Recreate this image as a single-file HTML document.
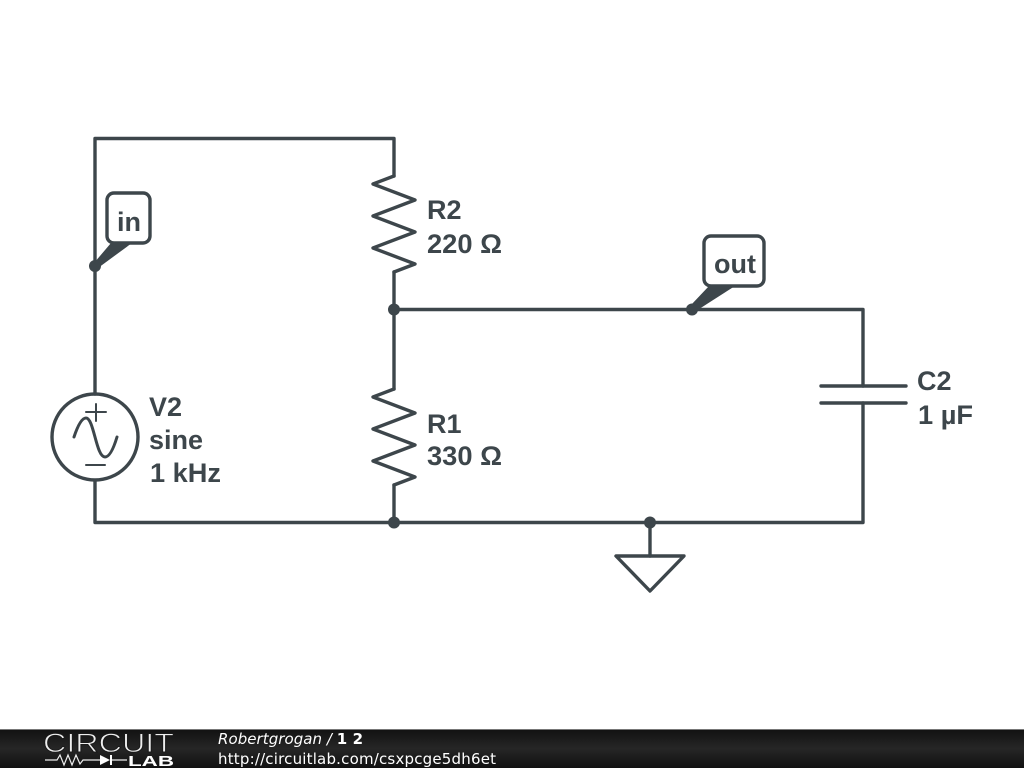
<!DOCTYPE html>
<html>
<head>
<meta charset="utf-8">
<style>
html,body{margin:0;padding:0;background:#fff;width:1024px;height:768px;overflow:hidden}
svg{display:block}
.t{font-family:"Liberation Sans",sans-serif;font-weight:700;font-size:27px;fill:#3d464b}
.f{font-family:"DejaVu Sans",sans-serif;font-size:15px;fill:#fff}
</style>
</head>
<body>
<svg width="1024" height="768" viewBox="0 0 1024 768" xmlns="http://www.w3.org/2000/svg">
<defs>
<linearGradient id="g" x1="0" y1="0" x2="0" y2="1">
<stop offset="0" stop-color="#111"/>
<stop offset="0.5" stop-color="#262626"/>
<stop offset="1" stop-color="#111"/>
</linearGradient>
</defs>
<rect width="1024" height="768" fill="#fff"/>
<g fill="none" stroke="#3d464b" stroke-width="3.4" stroke-linejoin="round" stroke-linecap="round">
<!-- wires -->
<path d="M95 394V138.500H394V176"/>
<path d="M95 481V522.500H863V403"/>
<path d="M394 272V389"/>
<path d="M394 485V522"/>
<path d="M394 309.500H863V386"/>
<path d="M650 522V556"/>
<!-- resistors -->
<path d="M394 176L373 184L415 200L373 216L415 232L373 248L415 264L394 272"/>
<path d="M394 389L373 397L415 413L373 429L415 445L373 461L415 477L394 485"/>
<!-- capacitor -->
<path d="M821 386H906M821 403H906"/>
<!-- ground -->
<path d="M616 556H684L650 591Z"/>
<!-- source -->
<circle cx="95" cy="437" r="43"/>
</g>
<g fill="none" stroke="#3d464b" stroke-width="2" stroke-linecap="round">
<path d="M86 412H106M96 404V421"/>
<path d="M86 465H105"/>
<path d="M74 437C78 425 82 418 86 418C94 418 96 457 105 457C110 457 114 447 117 437" stroke-width="3"/>
</g>
<!-- junctions -->
<g fill="#3d464b">
<circle cx="95" cy="266" r="6"/>
<circle cx="394" cy="309.500" r="6"/>
<circle cx="692" cy="309.500" r="6"/>
<circle cx="394" cy="522.500" r="6"/>
<circle cx="650" cy="522.500" r="6"/>
</g>
<!-- flags -->
<rect x="107" y="193" width="43" height="50" rx="7" fill="#fff" stroke="#3d464b" stroke-width="3.4"/>
<rect x="704" y="236" width="60" height="50" rx="7" fill="#fff" stroke="#3d464b" stroke-width="3.4"/>
<g fill="#3d464b">
<path d="M94 263L111 243L132 243L98 268Z"/>
<path d="M691 305L709 286L735 286L696 311Z"/>
</g>
<text class="t" x="117" y="231">in</text>
<text class="t" x="714" y="273">out</text>
<!-- labels -->
<text class="t" x="427" y="219">R2</text>
<text class="t" x="427" y="253" textLength="75" lengthAdjust="spacingAndGlyphs">220 Ω</text>
<text class="t" x="427" y="433">R1</text>
<text class="t" x="427" y="465" textLength="75" lengthAdjust="spacingAndGlyphs">330 Ω</text>
<text class="t" x="149" y="416">V2</text>
<text class="t" x="149" y="449">sine</text>
<text class="t" x="150" y="482" textLength="71" lengthAdjust="spacingAndGlyphs">1 kHz</text>
<text class="t" x="917" y="390">C2</text>
<text class="t" x="918" y="424" textLength="55" lengthAdjust="spacingAndGlyphs">1 µF</text>
<!-- footer -->
<rect x="0" y="729" width="1024" height="39" fill="url(#g)"/>
<rect x="0" y="729" width="1024" height="1" fill="#777"/>
<text x="43" y="752" font-family="Liberation Sans,sans-serif" font-size="27" fill="#eee" stroke="#1a1a1a" stroke-width="0.9" textLength="131" lengthAdjust="spacingAndGlyphs">CIRCUIT</text>
<path d="M45 760H57L60 755L64 765L68 755L72 765L76 755L80 764L83 760H100M110 760H127" fill="none" stroke="#eee" stroke-width="1.2"/>
<path d="M100 755L110 760L100 765Z" fill="#fff"/>
<rect x="110" y="755" width="2" height="10" fill="#fff"/>
<text x="128" y="766" font-family="Liberation Sans,sans-serif" font-weight="700" font-size="15" fill="#fff" textLength="46" lengthAdjust="spacingAndGlyphs">LAB</text>
<text class="f" x="218" y="744" font-style="italic" textLength="145" lengthAdjust="spacing">Robertgrogan / <tspan font-weight="700" font-style="normal">1 2</tspan></text>
<text class="f" x="218" y="764" textLength="278" lengthAdjust="spacing">http://circuitlab.com/csxpcge5dh6et</text>
</svg>
</body>
</html>
